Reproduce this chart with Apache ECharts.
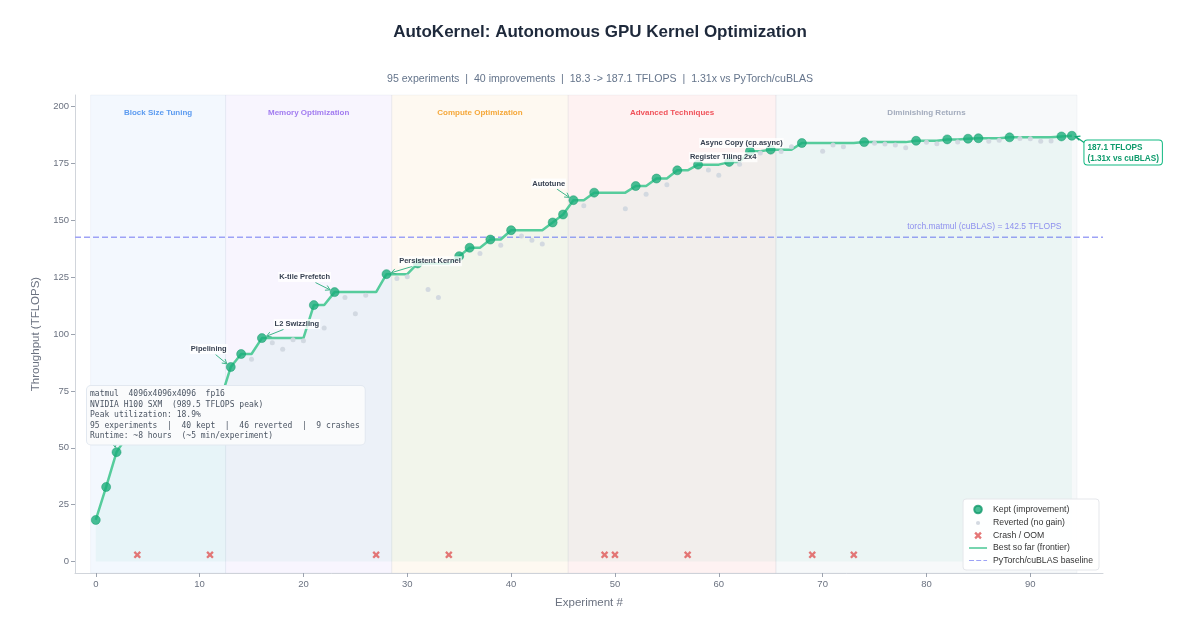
<!DOCTYPE html>
<html><head><meta charset="utf-8">
<script src="https://cdn.jsdelivr.net/npm/echarts@6/dist/echarts.min.js"></script>
<style>html,body{margin:0;padding:0;background:#fff}#c{width:1200px;height:630px}</style>
</head><body><div id="c"></div>
<script>
// ---------------- data ----------------
const nExperiments = 95;
const keptExp = [0,1,2,3,5,6,7,9,12,13,14,16,21,23,28,31,35,36,38,40,44,45,46,48,52,54,56,58,61,63,65,68,74,79,82,84,85,88,93,94];
const keptVal = [18.3,32.8,48.1,55,59,62.5,66,68.5,71,85.5,91.2,98.2,112.7,118.4,126.3,131,134.2,137.9,141.5,145.6,149,152.5,158.8,162.1,165,168.3,171.9,174.4,175.6,180.3,181.0,183.9,184.3,184.9,185.5,185.8,186.0,186.4,186.8,187.1];
const revertedExp = [8,10,15,17,18,19,20,22,24,25,26,29,30,32,33,37,39,41,42,43,47,51,53,55,59,60,62,64,66,67,70,71,72,75,76,77,78,80,81,83,86,87,89,90,91,92];
const revertedVal = [60,63,88.9,96.2,93.3,97.5,97.0,102.6,116,108.9,117,124.4,125.2,119.6,116,135.4,139,143,141.2,139.5,156.3,155,161.4,165.6,172,169.7,174.6,179.5,180.2,182.3,180.3,183,182.3,183.8,183.5,183,181.8,184.2,183.6,184.4,184.7,185.1,185.9,185.8,184.7,184.8];
const crashExp = [4,11,27,34,49,50,57,69,73];
const crashLevel = 3;
const baselineTflops = 142.5;
const peakTflops = 989.5;
const phaseNames = ['Block Size Tuning','Memory Optimization','Compute Optimization','Advanced Techniques','Diminishing Returns'];
const phaseStart = [-0.5,12.5,28.5,45.5,65.5];
const phaseEnd = [12.5,28.5,45.5,65.5,94.5];
const xRange = [-2,97];
const yRange = [-5,205];
const xTicks = [0,10,20,30,40,50,60,70,80,90];
const yTicks = [0,25,50,75,100,125,150,175,200];
const annotationText = ['Block Size 128','Pipelining','L2 Swizzling','K-tile Prefetch','Persistent Kernel','Autotune','Register Tiling 2x4','Async Copy (cp.async)'];
const annotationExp = [2,13,16,23,28,46,61,63];

// ---------------- styles ----------------
const FONT = "'Liberation Sans', Arial, sans-serif";
const phaseFill = ['rgba(59,130,246,0.06)','rgba(139,92,246,0.06)','rgba(245,158,11,0.06)','rgba(239,68,68,0.07)','rgba(148,163,184,0.07)'];
const phaseLabel = ['#5b9bf0','#a27cf0','#f5a83a','#f0525a','#a3acbd'];
const annOffset = [[-5,-20],[-22,-18],[35,-14],[-30,-15],[43.5,-13],[-24.7,-16.6],[-6,-4.6],[-8.5,-8.3]];
const GREEN_DOT = '#1aae7a', GREEN_LINE = '#56cc9c', ARROW = '#3fb68b', BASE = '#9da2f6';

// derived
const keptMap = {}; keptExp.forEach((e,i)=>keptMap[e]=keptVal[i]);
const frontier = []; let best = -Infinity;
for (let i=0;i<nExperiments;i++){ if (keptMap[i]!==undefined) best=Math.max(best,keptMap[i]); frontier.push([i,best]); }
const finalBest = best;
const speedup = finalBest/baselineTflops;
const subtitle = `${nExperiments} experiments  |  ${keptExp.length} improvements  |  ${keptVal[0].toFixed(1)} -> ${finalBest.toFixed(1)} TFLOPS  |  ${speedup.toFixed(2)}x vs PyTorch/cuBLAS`;
const infoLines = [
  'matmul  4096x4096x4096  fp16',
  `NVIDIA H100 SXM  (${peakTflops.toFixed(1)} TFLOPS peak)`,
  `Peak utilization: ${(finalBest/peakTflops*100).toFixed(1)}%`,
  `${nExperiments} experiments  |  ${keptExp.length} kept  |  ${revertedExp.length} reverted  |  ${crashExp.length} crashes`,
  'Runtime: ~8 hours  (~5 min/experiment)'
];

const chart = echarts.init(document.getElementById('c'), null, {renderer:'canvas'});
const X_PATH = 'path://M2.2,0 L5,2.8 L7.8,0 L10,2.2 L7.2,5 L10,7.8 L7.8,10 L5,7.2 L2.2,10 L0,7.8 L2.8,5 L0,2.2 Z';
const SMALL_CIRCLE = 'path://M0,0 M10,10 M2.7,5 A2.3,2.3 0 1,0 7.3,5 A2.3,2.3 0 1,0 2.7,5 Z';
const KEPT_ICON = 'path://M0,0 M10,10 M0.8,5 A4.2,4.2 0 1,0 9.2,5 A4.2,4.2 0 1,0 0.8,5 Z';
const CRASH_ICON = 'path://M-1,-1 M11,11 ' + X_PATH.slice(7);
const LINE_ICON = 'path://M0,0 M0,10 M0,4.1 L20,4.1 L20,5.9 L0,5.9 Z';
const DASH_ICON = 'path://M0,0 M0,10 M0,4.4 L5.5,4.4 L5.5,5.6 L0,5.6 Z M8,4.4 L13.5,4.4 L13.5,5.6 L8,5.6 Z M16,4.4 L20,4.4 L20,5.6 L16,5.6 Z';

const option = {
  backgroundColor:'#ffffff',
  animation:false,
  textStyle:{fontFamily:FONT},
  title:[
    {text:'AutoKernel: Autonomous GPU Kernel Optimization', left:'center', top:19,
     textStyle:{fontSize:17, fontWeight:'bold', color:'#1e293b', fontFamily:FONT}},
    {text:subtitle, left:'center', top:69, textStyle:{fontSize:10.6, fontWeight:'normal', color:'#64748b', fontFamily:FONT}}
  ],
  grid:{left:75, right:97, top:95, bottom:57},
  xAxis:{type:'value', min:xRange[0], max:xRange[1],
    name:'Experiment #', nameLocation:'middle', nameGap:24,
    nameTextStyle:{fontSize:11.5, color:'#6b7280', fontFamily:FONT},
    axisLine:{show:true, onZero:false, lineStyle:{color:'#d1d5db', width:1}},
    axisTick:{show:true, customValues:xTicks, length:4, lineStyle:{color:'#9ca3af'}},
    axisLabel:{customValues:xTicks, fontSize:9.5, color:'#6b7280', margin:6, fontFamily:FONT},
    splitLine:{show:false}},
  yAxis:{type:'value', min:yRange[0], max:yRange[1],
    name:'Throughput (TFLOPS)', nameLocation:'middle', nameGap:32, nameRotate:90,
    nameTextStyle:{fontSize:11.5, color:'#6b7280', fontFamily:FONT},
    axisLine:{show:true, onZero:false, lineStyle:{color:'#d1d5db', width:1}},
    axisTick:{show:true, customValues:yTicks, length:4, lineStyle:{color:'#9ca3af'}},
    axisLabel:{customValues:yTicks, fontSize:9.5, color:'#6b7280', margin:6, fontFamily:FONT},
    splitLine:{show:false}},
  legend:{
    orient:'vertical', right:101, bottom:60,
    data:[{name:'Kept (improvement)', icon:KEPT_ICON},
          {name:'Reverted (no gain)', icon:SMALL_CIRCLE},
          {name:'Crash / OOM', icon:CRASH_ICON},
          {name:'Best so far (frontier)', icon:LINE_ICON},
          {name:'PyTorch/cuBLAS baseline', icon:DASH_ICON}],
    itemWidth:20, itemHeight:9, itemGap:3.5,
    backgroundColor:'rgba(255,255,255,0.92)', borderColor:'#e5e7eb', borderWidth:1, borderRadius:3,
    padding:[5,6,5,6],
    textStyle:{fontSize:8.7, color:'#333', fontFamily:FONT}
  },
  series:[
    {name:'phases', type:'line', data:[], silent:true, z:0,
     markArea:{silent:true,
       label:{position:'insideTop', distance:14, fontSize:8, fontWeight:'bold', fontFamily:FONT},
       data: phaseNames.map((n,i)=>[
         {name:n, xAxis:phaseStart[i], itemStyle:{color:phaseFill[i], borderColor:'rgba(148,163,184,0.15)', borderWidth:0.6},
          label:{color:phaseLabel[i]}},
         {xAxis:phaseEnd[i]}])}},
    {name:'PyTorch/cuBLAS baseline', type:'line', data:[[xRange[0],baselineTflops],[xRange[1],baselineTflops]],
     symbol:'none', z:2, silent:true,
     lineStyle:{color:BASE, width:1.3, type:[6,3], opacity:1}, itemStyle:{color:BASE}},
    {name:'Best so far (frontier)', type:'line', data:frontier, symbol:'none', z:3,
     lineStyle:{color:GREEN_LINE, width:2.5}, itemStyle:{color:GREEN_LINE},
     areaStyle:{color:'rgba(16,185,129,0.07)'}},
    {name:'Reverted (no gain)', type:'scatter', data:revertedExp.map((e,i)=>[e,revertedVal[i]]),
     symbol:'circle', symbolSize:5, z:4, itemStyle:{color:'#cfd6df', opacity:0.9}},
    {name:'Kept (improvement)', type:'scatter', data:keptExp.map((e,i)=>[e,keptVal[i]]),
     symbol:'circle', symbolSize:9, z:5, itemStyle:{color:GREEN_DOT, borderColor:'#139a6b', borderWidth:0.6}},
    {name:'Crash / OOM', type:'scatter', data:crashExp.map(e=>[e,crashLevel]),
     symbol:X_PATH, symbolSize:7.5, z:5, itemStyle:{color:'#e05f5f', opacity:0.85}}
  ]
};
chart.setOption(option);

// ---------------- annotations (graphic) ----------------
const ctx = document.createElement('canvas').getContext('2d');
function measure(text, font){ ctx.font = font; return ctx.measureText(text).width; }
function px(x,y){ return chart.convertToPixel({gridIndex:0},[x,y]); }
function arrow(ax,ay,px_,py_,hw,hh,shrink){
  let dx=px_-ax, dy=py_-ay; const L=Math.hypot(dx,dy); if (L<1) return [];
  const ux=dx/L, uy=dy/L;
  const t = Math.min(Math.abs(ux)>1e-6?hw/Math.abs(ux):1e9, Math.abs(uy)>1e-6?hh/Math.abs(uy):1e9)+1;
  const sx=ax+ux*t, sy=ay+uy*t, ex=px_-ux*shrink, ey=py_-uy*shrink;
  if ((ex-sx)*ux+(ey-sy)*uy < 3) return [];
  const hx=ex-ux*4.5, hy=ey-uy*4.5, nx=-uy*2.6, ny=ux*2.6;
  return [
    {type:'line', z:50, shape:{x1:sx,y1:sy,x2:ex,y2:ey}, style:{stroke:ARROW, lineWidth:1}},
    {type:'polyline', z:50, shape:{points:[[hx+nx,hy+ny],[ex,ey],[hx-nx,hy-ny]]}, style:{stroke:ARROW, lineWidth:1, fill:null}}
  ];
}
const g = [];
const annFont = `bold 7.5px ${FONT}`;
annotationText.forEach((t,i)=>{
  const e = annotationExp[i];
  const P = px(e, keptMap[e]);
  const A = [P[0]+annOffset[i][0], P[1]+annOffset[i][1]];
  const w = measure(t, annFont);
  g.push(...arrow(A[0],A[1],P[0],P[1],w/2+1,5,5));
  g.push({type:'text', z:60, x:A[0], y:A[1], style:{text:t, font:annFont, fill:'#374151', align:'center', verticalAlign:'middle',
    backgroundColor:'rgba(255,255,255,0.8)', padding:[1,1]}});
});
// final best annotation
{
  const e = keptExp[keptExp.length-1];
  const P = px(e, keptMap[e]);
  const bx = P[0]+12.6, by = P[1]+4.8;
  g.push({type:'line', z:60, shape:{x1:bx+1,y1:by+3,x2:P[0]+4,y2:P[1]+1}, style:{stroke:'#10a574', lineWidth:1.2}});
  g.push({type:'polyline', z:60, shape:{points:[[P[0]+7.5,P[1]+4.6],[P[0]+3.5,P[1]+1],[P[0]+8.6,P[1]+0.3]]}, style:{stroke:'#10a574', lineWidth:1.2, fill:null}});
  g.push({type:'text', z:70, x:bx, y:by, style:{
    text:`${finalBest.toFixed(1)} TFLOPS\n(${speedup.toFixed(2)}x vs cuBLAS)`,
    font:`bold 8.2px ${FONT}`, fill:'#0e9b6c', align:'left', verticalAlign:'top', lineHeight:10.5,
    backgroundColor:'#ffffff', borderColor:'#10b981', borderWidth:1, borderRadius:3, padding:[2,3,1,3]}});
}
// baseline label
{
  const P = px(93, baselineTflops);
  g.push({type:'text', z:40, x:P[0], y:P[1]-10.5, style:{text:`torch.matmul (cuBLAS) = ${baselineTflops.toFixed(1)} TFLOPS`,
    font:`8.5px ${FONT}`, fill:'#8e90ee', align:'right', verticalAlign:'middle'}});
}
// info box
g.push({type:'text', z:90, x:87, y:386, style:{text:infoLines.join('\n'), font:"8px 'DejaVu Sans Mono', monospace",
  fill:'#4b5563', align:'left', verticalAlign:'top', lineHeight:10.5,
  backgroundColor:'#fafbfc', borderColor:'#e2e8f0', borderWidth:1, borderRadius:4, padding:[3,5,3,3]}});
chart.setOption({graphic:{elements:g}});
</script>
</body></html>
